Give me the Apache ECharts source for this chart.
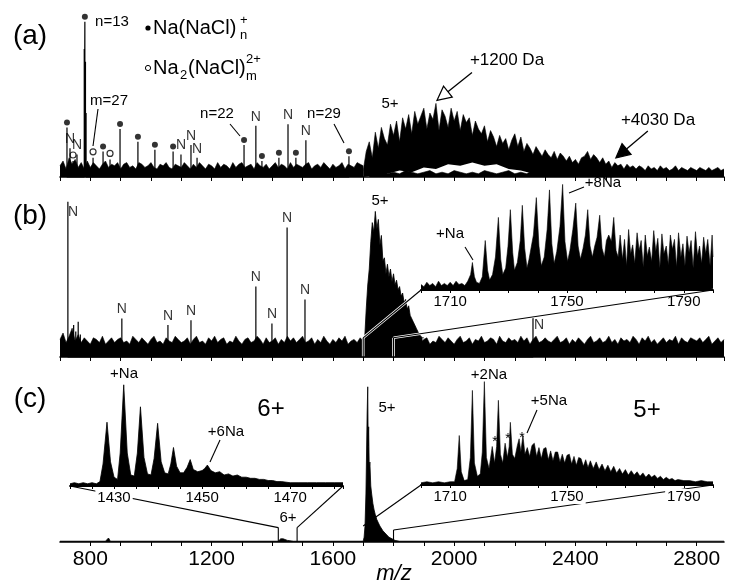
<!DOCTYPE html>
<html><head><meta charset="utf-8">
<script src="https://cdn.jsdelivr.net/npm/echarts/dist/echarts.min.js"></script>
<style>html,body{margin:0;padding:0;background:#fff}#c{width:741px;height:588px}</style>
</head><body><div id="c"></div>
<script>
// ---------------- DATA (m/z, relative intensity 0-100) ----------------
// Panel (a)
const noiseA1Start = 700, noiseA1Step = 10;
const noiseA1 = [7,10,5,12,8,11,6,9,5,10, 6,9,7,5,8,10,6,8,7,9, 5,8,9,6,7,5,9,8,6,7, 9,6,5,8,7,9,6,5,8,7,
  6,9,7,5,8,6,9,7,5,8, 7,5,9,6,8,7,5,9,6,8, 9,6,7,8,5,9,7,6,8,5, 7,9,6,8,7,5,9,6,8,7,
  6,8,9,5,7,8,6,9,7,5, 8,6,7,9,5,8,7,6,9,8, 7];
const noiseA2Start = 1720, noiseA2Step = 20;
const noiseA2 = [3,2,4,2,3,2,4,3,2,3, 4,2,3,2,4,3,2,3,2,4, 3,2,3,4,2,3,2,4,3,2, 3,4,2,3,2,3,4,2,3,2,
  4,3,2,3,2,4,3,2,3,4, 2,3,2,4,3,2,3,2,3];
const humpAStart = 1700, humpAStep = 10;
const humpA = [4,16,22,12,28,18,31,24,20,33, 26,35,22,37,30,39,27,41,33,38, 43,30,40,36,46,29,42,38,31,43,
  35,41,29,39,34,37,26,35,30,27, 32,22,29,25,19,26,21,24,17,23, 27,19,25,16,21,18,14,19,16,13,
  17,14,12,16,11,15,13,10,13,9, 11,8,12,13,16,11,14,12,9,12, 8,10,6,9,7,8,5,8,6,7,
  5,7,6,4,7,5,6,4,7,5, 6,4,5,7,4,6,5,4,6,5, 4,6,5,4,6,4,5,6,4,5];
const gapA = [[1700,0],[1780,2],[1820,4],[1860,3],[1900,6],[1940,5],[1980,8],[2020,7],[2060,9],[2100,7],[2140,8],[2180,5],[2220,4],[2260,2],[2300,0]];
const peaksA = [[723,31],[733,18],[743,10],[756,14],[780,80],[782,97],[784,72],[786,40],[809,12],[842,16],[865,11],[898,30],
  [957,22],[1013,17],[1073,16],[1099,14],[1132,20],[1152,12],[1307,20],[1346,32],[1366,10],[1422,12],[1452,33],[1478,12],[1511,23],[1653,13]];
const naclDotsA = [[723,31],[782,97],[842,16],[898,30],[957,22],[1013,17],[1073,16],[1307,20],[1366,10],[1422,12],[1478,12],[1653,13]];
const na2CirclesA = [[743,10],[809,12],[865,11]];
const nLabelsA = [[733,18],[756,14],[1099,14],[1132,20],[1152,12],[1346,32],[1452,33],[1511,23]];

// Panel (b)
const noiseBStart = 700, noiseBStep = 10;
const noiseB = [11,15,9,13,18,10,14,9,12,10, 8,12,11,9,13,8,10,12,9,11, 12,9,10,8,13,11,9,12,10,8, 11,13,9,10,8,12,10,9,13,11,
  9,10,12,8,11,13,9,10,8,12, 10,13,9,11,12,8,10,9,13,10, 8,11,12,9,10,13,11,8,12,9, 10,12,8,11,9,13,10,12,9,11,
  13,9,10,12,8,11,9,13,10,8, 11,9,12,10,13,8,10,11,9,12, 10,12,9,11,13,9,10,12,8,11, 9,13,10,8,12,11,9,10,13,9,
  11,12,8,10,9,13,11,9,12,10, 8,11,13,9,10,12,8,11,10,13, 9,10,12,11,8,13,10,9,12,10, 11,9,13,10,12,8,11,13,9,10,
  12,10,9,11,13,9,10,12,8,11, 9,12,10,8,11,13,9,10,12,9, 10,13,9,11,8,12,10,11,9,13, 11,8,12,10,13,9,11,8,10,12,
  9,11,10,13,8,12,10,9,12,11, 10,12,9,11,13,8,10,12,9,11];
const humpBStart = 1700, humpBStep = 5;
const humpB = [9,12,30,45,55,72,84,78,91,80,86,70,76,60,62,52,58,50,55,47,52,45,48,42,44,38,40,34,36,30,32,26,27,22,22,18,18,14,15,12,12];
const peaksB = [[726,97],[738,15],[745,20],[752,16],[760,22],[767,14],[904,24],[1056,20],[1132,23],[1346,44],[1399,21],[1449,81],[1508,36],[2260,25]];
const nLabelsB = [[726,97],[904,24],[1056,20],[1132,23],[1346,44],[1399,21],[1449,81],[1508,36],[2260,25]];
const insetB = [[1700,5],[1701,3],[1702,7],[1703,4],[1704,6],[1705,3],[1706,8],[1707,4],[1708,6],[1709,4],[1710,7],[1711,4],[1712,8],
  [1713,5],[1714,6],[1715,4],[1716,8],[1717,14],[1717.6,25],[1718.3,12],[1719,7],[1720,6],[1721,12],[1722,45],[1722.8,18],[1723.5,9],
  [1724.5,14],[1725.5,30],[1726.5,66],[1727.3,28],[1728,14],[1729,20],[1729.8,40],[1730.6,73],[1731.4,34],[1732,18],[1733,25],[1734,45],
  [1734.7,77],[1735.5,38],[1736.3,20],[1737,28],[1738.5,50],[1739.5,84],[1740.4,40],[1741.2,22],[1742.2,30],[1743.2,55],[1744,91],
  [1744.8,42],[1745.6,24],[1746.5,35],[1747.6,58],[1748.5,96],[1749.3,44],[1750.2,26],[1751,36],[1752,55],[1753,79],[1753.8,40],
  [1754.6,28],[1755.5,38],[1756.3,50],[1757.1,73],[1757.9,40],[1758.7,30],[1759.5,40],[1760.3,48],[1761.2,68],[1762,38],[1762.8,30],
  [1763.5,45],[1764.3,50],[1765.2,44],[1766,66],[1766.8,36],[1767.5,30],[1768.2,50],[1769,28],[1769.7,46],[1770.4,22],[1771.1,55],
  [1771.8,33],[1772.5,41],[1773.2,24],[1774,52],[1774.7,36],[1775.4,45],[1776.1,21],[1776.8,50],[1777.5,31],[1778.2,39],[1779,26],
  [1779.7,54],[1780.4,35],[1781.1,47],[1781.8,20],[1782.5,51],[1783.2,33],[1784,40],[1784.7,23],[1785.4,50],[1786.1,37],[1786.8,46],
  [1787.5,21],[1788.2,52],[1789,30],[1789.7,42],[1790.4,22],[1791.1,49],[1791.8,34],[1792.5,45],[1793.2,20],[1794,53],[1794.7,31],
  [1795.4,40],[1796.1,24],[1796.8,48],[1797.5,33],[1798.2,46],[1799,22],[1799.7,50],[1800,30]];

// Panel (c)
const mainC = [[700,0.5],[850,0.5],[860,2.5],[866,0.5],[1420,0.5],[1428,2],[1432,3],[1436,2],[1440,1.5],[1450,1],[1470,0.5],
  [1700,0.5],[1703,3],[1706,10],[1709,30],[1711,55],[1713,80],[1715,97],[1716.5,60],[1718,72],[1720,45],[1722,50],[1725,35],
  [1728,30],[1732,24],[1736,20],[1740,17],[1745,14],[1750,12],[1755,10],[1765,7],[1775,5],[1785,3],[1795,2],[1805,1],[1820,0.5],[2890,0.5]];
const insetCL = [[1420,2],[1421,3],[1422,2],[1423,3],[1424,2],[1425,3],[1426,2],[1426.8,4],[1427.5,20],[1428.4,58],[1429.2,22],[1430,8],
  [1430.8,6],[1431.4,30],[1432.2,92],[1433,30],[1433.8,10],[1434.6,9],[1435.3,30],[1436,72],[1436.8,26],[1437.6,11],[1438.4,10],
  [1439.1,25],[1439.9,57],[1440.7,22],[1441.5,12],[1442.3,11],[1442.9,20],[1443.5,35],[1444.2,18],[1445,12],[1445.8,12],[1446.6,17],
  [1447.3,24],[1448,15],[1449,13],[1450,14],[1450.6,16],[1451.2,19],[1452,14],[1453,12],[1454,13],[1455,10],[1456,11],[1457,9],
  [1458,10],[1459,8],[1460,8],[1461,7],[1462,7],[1463,6],[1464,6],[1465,5],[1466,5],[1467,4],[1468,4],[1470,3],[1472,3],[1474,3],
  [1476,3],[1478,3],[1480,3],[1482,3]];
const insetCR = [[1700,2],[1702,3],[1704,2],[1706,3],[1708,2],[1710,3],[1711.5,3],[1712.4,15],[1713.1,45],[1713.8,12],[1714.8,4],[1716,5],
  [1716.9,25],[1717.6,86],[1718.3,20],[1719.3,8],[1720.3,10],[1721,30],[1721.7,94],[1722.4,25],[1723.3,15],[1724.4,35],[1725.2,20],
  [1725.9,35],[1726.5,77],[1727.2,28],[1728,20],[1728.8,38],[1729.6,25],[1730.2,35],[1730.6,57],[1731.3,28],[1732.1,24],[1733,36],
  [1733.6,42],[1734.2,30],[1734.9,45],[1735.6,28],[1736.4,34],[1737.2,26],[1738,36],[1738.8,38],[1739.6,26],[1740.4,34],[1741.2,24],
  [1742,33],[1742.8,34],[1743.6,23],[1744.4,31],[1745.2,22],[1746,30],[1746.8,30],[1747.6,21],[1748.4,28],[1749.2,20],[1750,27],
  [1750.8,28],[1751.6,19],[1752.4,26],[1753.2,18],[1754,25],[1754.8,24],[1755.6,17],[1756.4,23],[1757.2,16],[1758,22],[1759,15],
  [1760,21],[1761,14],[1762,19],[1763,13],[1764,18],[1765,12],[1766,17],[1767,11],[1768,15],[1769,10],[1770,14],[1771,9],[1772,13],
  [1773,9],[1774,12],[1775,8],[1776,11],[1777,7],[1778,10],[1779,7],[1780,9],[1781,6],[1782,8],[1783,5],[1784,7],[1785,5],[1786,6],
  [1787,4],[1788,5],[1790,4],[1792,4],[1794,3],[1796,4],[1798,3],[1800,3]];

// Tick labels
const mainTickLabels = [800,1200,1600,2000,2400,2800];
const insetBTickLabels = [1710,1750,1790];
const insetCLTickLabels = [1430,1450,1470];
const insetCRTickLabels = [1710,1750,1790];

// ---------------- CHART ----------------
const FONT = 'Liberation Sans, Arial, sans-serif';
const chart = echarts.init(document.getElementById('c'));
function seq(start, step, vals){ return vals.map((v,i)=>[start+i*step, v]); }
function sticks(peaks){ const d=[]; peaks.forEach(p=>{ d.push([p[0],0],[p[0],p[1]],[p[0],0]); }); return d; }

const grids = [
  {left:60, width:664, top:17, height:160},
  {left:60, width:664, top:197, height:160},
  {left:60, width:664, top:382, height:160},
  {left:421, width:292, top:180, height:110},
  {left:70, width:273, top:376, height:110},
  {left:421, width:292, top:375, height:110}
];
const axisLineStyle = {color:'#000', width:1.6};
const xAxes = [];
for (let i=0;i<3;i++){
  xAxes.push({type:'value', gridIndex:i, min:700, max:2890, interval:100, z:10,
    axisLine:{show:true, onZero:false, lineStyle:axisLineStyle},
    axisTick:{show:true, length:4, lineStyle:{color:'#000', width:1}},
    splitLine:{show:false},
    axisLabel: i===2 ? {show:true, fontSize:21, color:'#000', fontFamily:FONT, margin:7,
      showMinLabel:false, showMaxLabel:false,
      formatter: v => mainTickLabels.includes(v) ? String(v) : ''} : {show:false}});
}
function insetAxis(gi, min, max, interval, labels, bg){
  return {type:'value', gridIndex:gi, min:min, max:max, interval:interval, z:10,
    axisLine:{show:true, onZero:false, lineStyle:{color:'#000', width:1.8}},
    axisTick:{show:true, length:3, lineStyle:{color:'#000', width:1}},
    splitLine:{show:false},
    axisLabel:{show:true, fontSize:15, color:'#000', fontFamily:FONT, margin:4,
      backgroundColor: bg ? '#fff' : 'transparent', padding:[0,2],
      formatter: v => labels.includes(v) ? String(v) : ''}};
}
xAxes.push(insetAxis(3, 1700, 1800, 10, insetBTickLabels, false));
xAxes.push(insetAxis(4, 1420, 1482, 5, insetCLTickLabels, true));
xAxes.push(insetAxis(5, 1700, 1800, 10, insetCRTickLabels, true));
const yAxes = grids.map((g,i)=>({type:'value', gridIndex:i, min:0, max:100, show:false}));

const base = {type:'line', showSymbol:false, symbol:'none', silent:true, animation:false, clip:false};
function area(idx, data, color, lw){
  return Object.assign({}, base, {xAxisIndex:idx, yAxisIndex:idx, data:data,
    lineStyle:{color:color, width:lw}, areaStyle:{color:color, opacity:1}});
}
function stickSeries(idx, peaks){
  return Object.assign({}, base, {xAxisIndex:idx, yAxisIndex:idx, data:sticks(peaks), lineStyle:{color:'#000', width:1.2}});
}
function nLabelSeries(idx, pts, special){
  return {type:'scatter', xAxisIndex:idx, yAxisIndex:idx, symbolSize:0.1, silent:true, clip:false,
    itemStyle:{color:'rgba(0,0,0,0)'},
    label:{show:true, formatter:'N', position:'top', distance:2, fontSize:14, color:'#000', fontFamily:FONT},
    data: pts.map((p,i)=> special && special[i] ? {value:p, label:special[i]} : {value:p})};
}

const series = [
  area(0, seq(humpAStart, humpAStep, humpA), '#000', 0.6),
  area(0, gapA, '#fff', 0),
  area(0, seq(noiseA1Start, noiseA1Step, noiseA1), '#000', 0.6),
  area(0, seq(noiseA2Start, noiseA2Step, noiseA2), '#000', 0.6),
  stickSeries(0, peaksA),
  {type:'scatter', xAxisIndex:0, yAxisIndex:0, data:naclDotsA, symbol:'circle', symbolSize:6, symbolOffset:[0,-5], clip:false,
    silent:true, itemStyle:{color:'#000'}},
  {type:'scatter', xAxisIndex:0, yAxisIndex:0, data:na2CirclesA, symbol:'circle', symbolSize:6, symbolOffset:[0,-6], clip:false,
    silent:true, itemStyle:{color:'#fff', borderColor:'#000', borderWidth:1.2}},
  nLabelSeries(0, nLabelsA),

  area(1, seq(noiseBStart, noiseBStep, noiseB), '#000', 0.6),
  area(1, seq(humpBStart, humpBStep, humpB), '#000', 0.8),
  stickSeries(1, peaksB),
  nLabelSeries(1, nLabelsB, {0:{position:'right', offset:[-2,10]}, 8:{position:'right', offset:[-1,8]}}),

  area(2, mainC, '#000', 0.8),
  area(3, insetB, '#000', 0.6),
  area(4, insetCL, '#000', 0.8),
  area(5, insetCR, '#000', 0.6)
];

chart.setOption({animation:false, backgroundColor:'#fff', grid:grids, xAxis:xAxes, yAxis:yAxes, series:series});

// ---------------- ANNOTATIONS ----------------
function px(g, pt){ return chart.convertToPixel({gridIndex:g}, pt); }
const G = [];
function seg(a, b, halo){
  if (halo) G.push({type:'line', z:5, silent:true, shape:{x1:a[0],y1:a[1],x2:b[0],y2:b[1]}, style:{stroke:'#fff', lineWidth:2.6}});
  G.push({type:'line', z:6, silent:true, shape:{x1:a[0],y1:a[1],x2:b[0],y2:b[1]}, style:{stroke:'#000', lineWidth:1.1}});
}
function txt(t, x, y, size, extra){
  G.push(Object.assign({type:'text', z:20, silent:true, x:x, y:y,
    style:{text:t, fontSize:size, fontFamily:FONT, fill:'#000', align:'center', verticalAlign:'middle'}}, extra||{}));
}
// zoom connectors, panel (b)
seg(px(1,[1800,0]), px(1,[1800,12]), true);
seg(px(1,[1700,0]), px(1,[1700,12]), true);
seg(px(1,[1700,12]), px(3,[1700,0]), true);
seg(px(1,[1800,12]), px(3,[1800,0]), true);
// zoom connectors, panel (c)
seg(px(2,[1800,0]), px(2,[1800,7.5]), false);
seg(px(2,[1700,10]), px(5,[1700,0]), false);
seg(px(2,[1800,7.5]), px(5,[1800,0]), false);
seg(px(2,[1420,0]), px(2,[1420,9]), false);
seg(px(2,[1482,0]), px(2,[1482,9]), false);
seg(px(2,[1420,9]), px(4,[1420,0]), false);
seg(px(2,[1482,9]), px(4,[1482,0]), false);

// arrows (+1200 Da hollow, +4030 Da filled), anchored on data
function arrow(from, tip, hollow){
  const dx = tip[0]-from[0], dy = tip[1]-from[1], L = Math.hypot(dx,dy), ux = dx/L, uy = dy/L;
  const hl = 14, hw = 7;
  const bx = tip[0]-hl*ux, by = tip[1]-hl*uy;
  G.push({type:'line', z:20, shape:{x1:from[0],y1:from[1],x2:bx,y2:by}, style:{stroke:'#000', lineWidth:1.3}});
  G.push({type:'polygon', z:21, shape:{points:[tip,[bx+hw*uy, by-hw*ux],[bx-hw*uy, by+hw*ux]]},
    style:{fill: hollow?'#fff':'#000', stroke:'#000', lineWidth:1.2}});
}
const t1 = px(0,[1940,46]); arrow([t1[0]+36, t1[1]-31], [t1[0]+1, t1[1]-3], true);
const t2 = px(0,[2530,10]); arrow([t2[0]+33, t2[1]-30], [t2[0]+1, t2[1]-3], false);

// panel letters
txt('(a)', 30, 36, 28); txt('(b)', 30, 216, 28); txt('(c)', 30, 399, 28);
// legend
function ltxt(t, x, y, size){
  G.push({type:'text', z:20, silent:true, x:x, y:y, style:{text:t, fontSize:size, fontFamily:FONT, fill:'#000', align:'left', verticalAlign:'middle'}});
}
G.push({type:'circle', z:20, shape:{cx:148, cy:28, r:2.6}, style:{fill:'#000'}});
G.push({type:'circle', z:20, shape:{cx:148, cy:68, r:2.6}, style:{fill:'#fff', stroke:'#000', lineWidth:1}});
ltxt('Na(NaCl)', 153, 28, 20); ltxt('n', 240, 35, 13); ltxt('+', 240, 20, 13);
ltxt('Na', 153, 68, 20); ltxt('2', 180, 75, 13); ltxt('(NaCl)', 188, 68, 20); ltxt('m', 246, 76, 13); ltxt('2+', 246, 59, 13);
// panel (a) texts
txt('n=13', 112, 22, 15); txt('m=27', 109, 101, 15); txt('n=22', 217, 114, 15); txt('n=29', 324, 114, 15);
txt('5+', 390, 104, 15); txt('+1200 Da', 507, 60, 17); txt('+4030 Da', 658, 120, 17);
seg([98,109],[93,146],false); seg([230,124],[240,136],false); seg([334,124],[344,143],false);
// panel (b) texts
txt('5+', 380, 201, 15); txt('+Na', 450, 234, 15); txt('+8Na', 603, 183, 15);
seg([465,247],[473,260],false); seg([569,193],[584,187],false);
// panel (c) texts
txt('+Na', 124, 374, 15); txt('6+', 271, 409, 24); txt('+6Na', 226, 432, 15); txt('6+', 288, 518, 15);
seg([220,440],[210,462],false);
txt('5+', 387, 408, 15); txt('+2Na', 489, 375, 15); txt('+5Na', 549, 401, 15); txt('5+', 647, 410, 24);
seg([537,410],[527,433],false);
txt('*', 495, 442, 14); txt('*', 508, 439, 14); txt('*', 522, 438, 14);
G.push({type:'text', z:20, x:394, y:574, style:{text:'m/z', fontSize:22, fontStyle:'italic', fontFamily:FONT, fill:'#000', align:'center', verticalAlign:'middle'}});

chart.setOption({graphic:{elements:G}});
</script></body></html>
